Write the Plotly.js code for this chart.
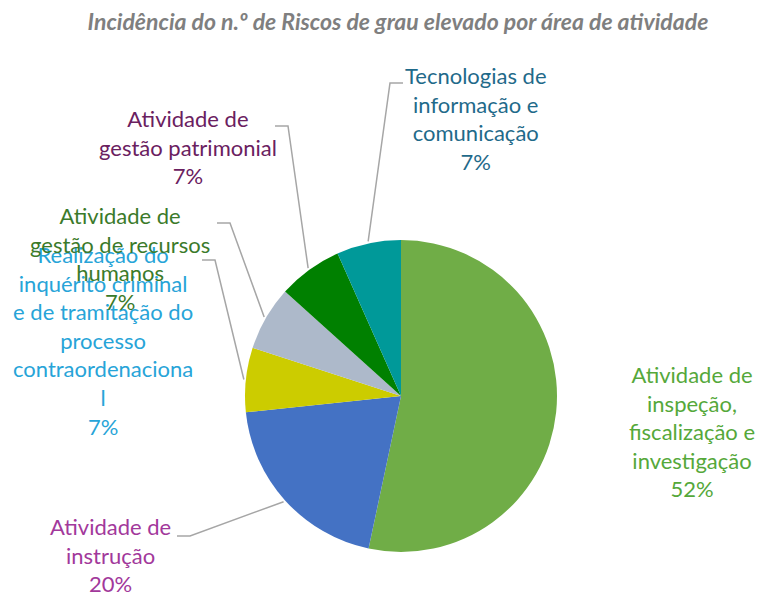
<!DOCTYPE html>
<html>
<head>
<meta charset="utf-8">
<script src="https://cdn.plot.ly/plotly-3.0.1.min.js"></script>
<style>html,body{margin:0;padding:0;background:#fff;}#chart{width:757px;height:596px;}</style>
</head>
<body>
<div id="chart"></div>
<script>
// ---- data ----
const chartTitle = "Incidência do n.º de Riscos de grau elevado por área de atividade";
const categories = [
  "Atividade de inspeção, fiscalização e investigação",
  "Atividade de instrução",
  "Realização do inquérito criminal e de tramitação do processo contraordenacional",
  "Atividade de gestão de recursos humanos",
  "Atividade de gestão patrimonial",
  "Tecnologias de informação e comunicação"
];
// number of high-grade risks per area (slice sizes)
const values = [8, 3, 1, 1, 1, 1];
// percentage labels as printed on the chart
const percentLabels = ["52%", "20%", "7%", "7%", "7%", "7%"];
// wrapped label text as shown in the chart
const labelLines = [
  ["Atividade de", "inspeção,", "fiscalização e", "investigação"],
  ["Atividade de", "instrução"],
  ["Realização do", "inquérito criminal", "e de tramitação do", "processo", "contraordenaciona", "l"],
  ["Atividade de", "gestão de recursos", "humanos"],
  ["Atividade de", "gestão patrimonial"],
  ["Tecnologias de", "informação e", "comunicação"]
];

// ---- styles / layout ----
const sliceColors = ["#70ad47", "#4472c4", "#cccc00", "#adb9ca", "#008000", "#009999"];
const labelColors = ["#55a83a", "#a2389b", "#27a4d8", "#3b7a2a", "#6a2060", "#1f6a8a"];
const W = 757, H = 596;
const CX = 401, CY = 396, R = 156;           // pie centre / radius in px
// label block centres (px)
const labelPos = [[692, 431], [110, 555], [103, 340], [120, 258], [188, 147], [476, 118]];
// leader line: [label-side x, y, elbow x] (null = no leader)
const leaders = [null, [177, 536, 190], [202, 260, 215], [217, 223, 230], [275, 126, 288], [403, 83, 390]];
const FONT = "Lato, 'Open Sans', sans-serif";

const total = values.reduce((a, b) => a + b, 0);
const px = x => x / W, py = y => 1 - y / H;

const annotations = [];
const shapes = [];
let cum = 0;
values.forEach((v, i) => {
  const mid = (cum + v / 2) / total * 2 * Math.PI;   // clockwise from 12 o'clock
  cum += v;
  annotations.push({
    text: labelLines[i].concat([percentLabels[i]]).join("<br>"),
    x: px(labelPos[i][0]), y: py(labelPos[i][1]),
    xref: "paper", yref: "paper", xanchor: "center", yanchor: "middle",
    showarrow: false, align: "center", borderpad: 0,
    font: {family: FONT, size: 22, color: labelColors[i]}
  });
  if (leaders[i]) {
    const ex = CX + (R + 2) * Math.sin(mid), ey = CY - (R + 2) * Math.cos(mid);
    const [lx, ly, bx] = leaders[i];
    shapes.push({
      type: "path", xref: "paper", yref: "paper",
      path: `M ${px(lx)} ${py(ly)} L ${px(bx)} ${py(ly)} L ${px(ex)} ${py(ey)}`,
      line: {color: "#a6a6a6", width: 1.5}
    });
  }
});

const trace = {
  type: "pie",
  labels: categories,
  values: values,
  sort: false,
  direction: "clockwise",
  rotation: 0,
  textinfo: "none",
  hoverinfo: "label+percent",
  marker: {colors: sliceColors, line: {width: 0}},
  domain: {x: [px(CX - R), px(CX + R)], y: [py(CY + R), py(CY - R)]},
  showlegend: false
};

const layout = {
  width: W, height: H,
  margin: {l: 0, r: 0, t: 0, b: 0},
  paper_bgcolor: "#ffffff",
  title: {
    text: chartTitle,
    x: 398 / W, xanchor: "center", xref: "paper",
    y: 1 - 22 / H, yanchor: "middle", yref: "paper",
    font: {family: FONT, size: 23, color: "#7f7f7f", weight: "bold", style: "italic"}
  },
  annotations: annotations,
  shapes: shapes
};

Plotly.newPlot("chart", [trace], layout, {displayModeBar: false, staticPlot: true});
</script>
</body>
</html>
